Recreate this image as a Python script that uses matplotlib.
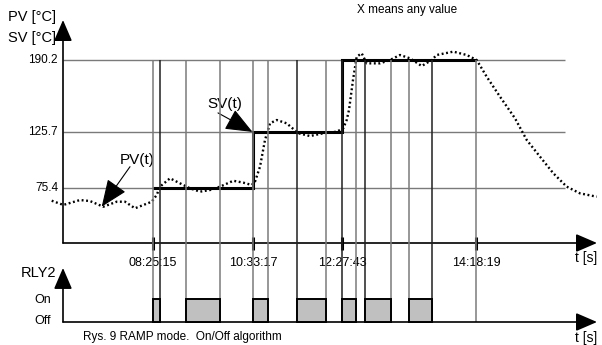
import matplotlib
matplotlib.use("Agg")
import matplotlib.pyplot as plt
import numpy as np

plt.rcParams["font.family"] = ["Liberation Sans", "DejaVu Sans"]

# ── data (x in arbitrary time units from the origin, y in °C) ─────────────────
level_values = [75.4, 125.7, 190.2]
level_labels = ["75.4", "125.7", "190.2"]

time_marks  = [89.5, 190.0, 279.0, 413.0]
time_labels = ["08:25:15", "10:33:17", "12:27:43", "14:18:19"]

sv_edges  = [89.5, 190.0, 279.0, 413.0]
sv_values = [75.4, 125.7, 190.2]

relay_on  = [89.5, 123.0, 190.0, 234.0, 279.0, 301.5, 346.3]
relay_off = [96.5, 156.5, 205.0, 263.0, 292.5, 328.3, 368.7]

pv_t = [-11.3, 0.3, 17, 27, 40.3, 53.7, 62, 72, 88.7, 93.7, 97, 107, 117, 127,
        137, 147, 157, 170.3, 180.3, 188.7, 192, 197, 202, 207, 213.7, 223.7,
        235.3, 247, 260.3, 273.7, 280.3, 283.7, 286, 290, 293.7, 298.7, 303.7,
        317, 327, 337, 347, 358.7, 368.7, 373.7, 390.3, 403.7, 413.7, 423.7,
        437, 452, 463.7, 477, 490.3, 503.7, 517, 533.7]
pv_v = [64.0, 60.2, 64.6, 63.7, 58.6, 63.1, 63.1, 57.2, 63.1, 69.1, 76.6, 84.1,
        79.6, 75.1, 72.1, 73.6, 76.6, 81.9, 80.2, 78.1, 81.1, 94.5, 118.5,
        133.4, 136.4, 133.4, 124.5, 122.0, 124.5, 125.9, 129.0, 136.4, 145.4,
        172.3, 193.2, 196.2, 187.2, 187.2, 190.2, 194.7, 191.7, 184.8, 190.2,
        194.7, 197.7, 194.7, 190.2, 175.2, 157.3, 137.9, 118.5, 103.5, 88.6,
        76.6, 70.6, 67.6]

# ── layout ────────────────────────────────────────────────────────────────────
W, H = 602, 345
GRAY = "#7a7a7a"
DARK_EDGES = {96.5, 234.0, 279.0, 301.5, 368.7}

fig = plt.figure(figsize=(W / 100, H / 100), dpi=100)
ax = fig.add_axes([0, 0, 1, 1])     # temperature panel
axr = fig.add_axes([0, 0, 1, 1])    # relay panel, same area, own y scale
for a in (ax, axr):
    a.set_xlim(-63, W - 63)
    a.patch.set_alpha(0)
    a.axis("off")
# 0.8969 °C per pixel, 75.4 at pixel row 188
ax.set_ylim(75.4 - (H - 188) * 0.8969, 75.4 + 188 * 0.8969)
# relay: Off at row 322, On at row 299
axr.set_ylim(-(H - 322) / 23, 322 / 23)


def fx(x):
    return x / W


def fy(y):
    return 1 - y / H


arrow = dict(arrowstyle="-|>,head_length=0.65,head_width=0.28",
             color="black", lw=1.2, shrinkA=0, shrinkB=0, mutation_scale=20)

# horizontal grid lines + level labels
ax.hlines(level_values, 0, 502, color=GRAY, lw=1.0, zorder=1)
for v, lab in zip(level_values, level_labels):
    ax.text(-5, v, lab, ha="right", va="center", fontsize=8.5)

# vertical event lines, from relay baseline up to top level
top_r = axr.transData.inverted().transform(
    ax.transData.transform((0, level_values[-1])))[1]
edges = sorted(set(relay_on + relay_off + [time_marks[-1]]))
for e in edges:
    c = "#202020" if e in DARK_EDGES else GRAY
    axr.vlines(e, 0, top_r, color=c, lw=1.1, zorder=1)

# axes with arrows
y_axis0 = 75.4 - 55 * 0.8969
ax.annotate("", xy=(0, 75.4 + 168 * 0.8969), xytext=(0, y_axis0), arrowprops=arrow)
ax.annotate("", xy=(534, y_axis0), xytext=(0, y_axis0), arrowprops=arrow)
axr.annotate("", xy=(0, 2.35), xytext=(0, 0), arrowprops=arrow)
axr.annotate("", xy=(534, 0), xytext=(0, 0), arrowprops=arrow)

# time ticks + labels
ax.vlines(time_marks, y_axis0 - 7 * 0.8969, y_axis0 + 6 * 0.8969,
          color="black", lw=2.2, zorder=3)
for t, lab in zip(time_marks, time_labels):
    ax.text(t, y_axis0 - 20 * 0.8969, lab, ha="center", va="center", fontsize=9)

# SV step line
ax.stairs(sv_values, sv_edges, color="black", lw=2.2, baseline=None, zorder=4)

# PV dotted line
ax.plot(pv_t, pv_v, color="black", lw=1.7, linestyle=(0, (0.8, 1.1)), zorder=5)

# relay blocks
widths = np.array(relay_off) - np.array(relay_on)
axr.bar(relay_on, 1, width=widths, align="edge", color="#c0c0c0",
        edgecolor="black", lw=1.4, zorder=3)

# annotations
ann = dict(arrowstyle="-|>,head_length=0.85,head_width=0.35",
           color="black", lw=0.8, shrinkA=0, shrinkB=0, mutation_scale=20)
ax.annotate("", xy=(189.5, 125.7), xytext=(155, 125.7 + 19 * 0.8969), arrowprops=ann)
ax.text(144, 125.7 + 28 * 0.8969, "SV(t)", ha="left", va="center", fontsize=11)
ax.annotate("", xy=(38.7, 75.4 - 18.7 * 0.8969), xytext=(67, 75.4 + 21.3 * 0.8969),
            arrowprops=ann)
ax.text(57, 75.4 + 28 * 0.8969, "PV(t)", ha="left", va="center", fontsize=11)

# labels
fig.text(fx(8), fy(17.5), "PV [°C]", ha="left", va="center", fontsize=10.5)
fig.text(fx(8), fy(38), "SV [°C]", ha="left", va="center", fontsize=10.5)
fig.text(fx(407), fy(10), "X means any value", ha="center", va="center", fontsize=8.5)
fig.text(fx(597), fy(258), "t [s]", ha="right", va="center", fontsize=10)
fig.text(fx(597), fy(338), "t [s]", ha="right", va="center", fontsize=10)
fig.text(fx(21), fy(273), "RLY2", ha="left", va="center", fontsize=10.5)
fig.text(fx(34), fy(300), "On", ha="left", va="center", fontsize=9)
fig.text(fx(34), fy(321), "Off", ha="left", va="center", fontsize=9)
fig.text(fx(83), fy(337), "Rys. 9 RAMP mode.  On/Off algorithm",
         ha="left", va="center", fontsize=8.5)

fig.savefig("out.png", dpi=100, facecolor="white")
